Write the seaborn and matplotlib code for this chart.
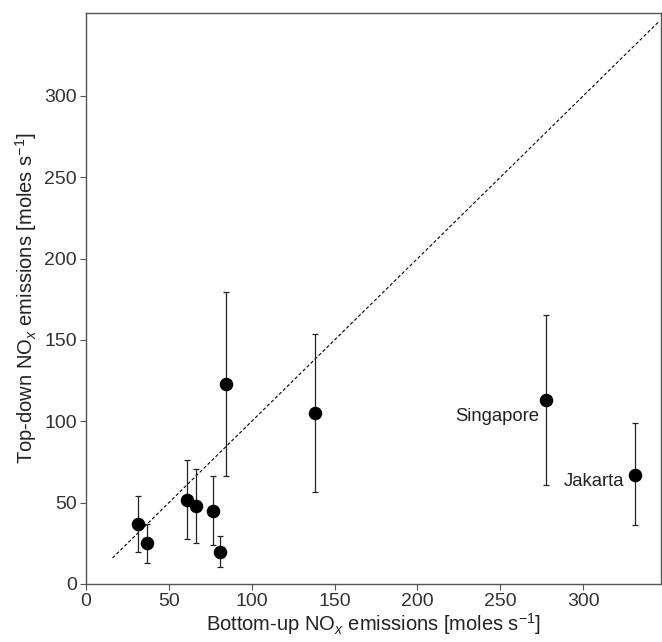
import matplotlib
matplotlib.use("Agg")
import matplotlib.pyplot as plt
import seaborn as sns
import numpy as np
import pandas as pd

# Data
bottom_up = [31.2, 36.6, 61.0, 66.4, 76.6, 80.7, 84.3, 138.2, 277.4, 331.5]
top_down = [36.7, 25.0, 51.9, 48.0, 45.1, 19.9, 123.0, 105.3, 112.9, 67.2]
err_low = [19.5, 13.2, 27.7, 25.4, 24.2, 10.5, 66.2, 56.8, 61.1, 36.1]
err_high = [54.1, 37.1, 76.3, 70.5, 66.4, 29.6, 179.8, 153.9, 165.4, 98.8]
city = ["", "", "", "", "", "", "", "", "Singapore", "Jakarta"]
one_to_one = [16, 346]
x_ticks = [0, 50, 100, 150, 200, 250, 300]
y_ticks = [0, 50, 100, 150, 200, 250, 300]

df = pd.DataFrame({"bu": bottom_up, "td": top_down, "lo": err_low,
                   "hi": err_high, "city": city})

sns.set_style("ticks")
plt.rcParams["font.family"] = ["Liberation Sans", "DejaVu Sans"]
plt.rcParams["mathtext.fontset"] = "custom"
plt.rcParams["mathtext.rm"] = "Liberation Sans"
plt.rcParams["mathtext.it"] = "Liberation Sans:italic"

fig = plt.figure(figsize=(6.62, 6.42), dpi=100)
ax = fig.add_axes([86 / 662, (642 - 584) / 642, (661 - 86) / 662, (584 - 13) / 642])

ax.errorbar(df["bu"], df["td"],
            yerr=[df["td"] - df["lo"], df["hi"] - df["td"]],
            fmt="none", ecolor="#222222", elinewidth=0.9, capsize=2.5,
            capthick=0.9, zorder=2)
sns.scatterplot(data=df, x="bu", y="td", color="black", s=95,
                edgecolor="black", linewidth=0, ax=ax, zorder=3)
sns.lineplot(x=one_to_one, y=one_to_one, color="black", linestyle=(0, (3, 2)),
             linewidth=0.8, ax=ax, zorder=1)

label_offsets = {"Singapore": (-4.8, -11.5), "Jakarta": (-8, -5)}
for _, r in df.iterrows():
    if r["city"]:
        ax.annotate(r["city"], (r["bu"], r["td"]),
                    xytext=label_offsets[r["city"]], textcoords="offset points",
                    ha="right", va="center", fontsize=13.3, color="#222222")

ax.set_xlim(0, 347)
ax.set_ylim(0, 351)
ax.set_xticks(x_ticks)
ax.set_yticks(y_ticks)
ax.tick_params(labelsize=14, colors="#555555", labelcolor="#333333", length=4,
               pad=2.5)
for s in ax.spines.values():
    s.set_color("#555555")
    s.set_linewidth(1.0)
ax.set_xlabel("Bottom-up NO$_x$ emissions [moles s$^{-1}$]", fontsize=14.5,
              color="#222222", labelpad=1)
ax.set_ylabel("Top-down NO$_x$ emissions [moles s$^{-1}$]", fontsize=14.5,
              color="#222222", labelpad=4)

fig.savefig("out.png", dpi=100)
